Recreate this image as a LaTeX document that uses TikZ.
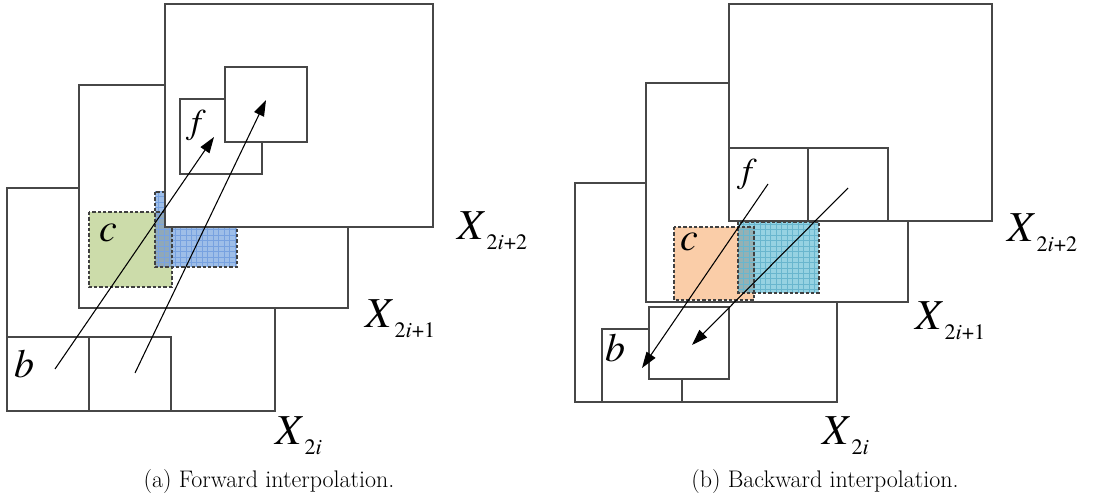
\documentclass[tikz,border=0pt]{standalone}
\usepackage{fontspec}
\usepackage{tikz}
\usetikzlibrary{arrows.meta}
\IfFontExistsTF{texgyretermes-italic.otf}{\newfontfamily\termesfont{texgyretermes-regular.otf}[ItalicFont=texgyretermes-italic.otf]}{\newfontfamily\termesfont{Latin Modern Roman}}
\definecolor{cgreen}{RGB}{204,220,170}
\definecolor{corange}{RGB}{250,205,168}
\definecolor{cblue}{RGB}{158,190,232}
\definecolor{cbluegrid}{RGB}{120,162,224}
\definecolor{ccyan}{RGB}{150,210,226}
\definecolor{ccyangrid}{RGB}{105,182,206}
\newcommand{\xname}[1]{{\itshape X}\hspace{2.5pt}\raisebox{-7.5pt}{\fontsize{16.5}{18}\selectfont\termesfont #1}}

\begin{document}
\begin{tikzpicture}[x=0.75pt, y=-0.75pt,
                vframe/.style={draw=black!72, line width=1pt, fill=white},
                mblock/.style={draw=black!72, line width=1pt, fill=white},
                region/.style={draw=black!75, line width=0.8pt, dash pattern=on 2.5pt off 1.5pt},
                arr/.style={line width=0.8pt, -{Triangle[length=12pt, width=8pt]}},
                letter/.style={inner sep=0pt, font=\fontsize{30}{32}\selectfont\termesfont\itshape},
                xlab/.style={inner sep=0pt, anchor=base west, font=\fontsize{32}{34}\selectfont\termesfont},
                caption/.style={inner sep=0pt, anchor=base, font=\fontsize{18}{20}\selectfont}]
                \useasboundingbox (0,0) rectangle (1093,495);
                % (a) forward
                \draw[vframe] (7,188) rectangle (275,411);
                \draw[mblock] (7,337) rectangle (89,411);
                \draw[mblock] (89,337) rectangle (171,411);
                \draw[vframe] (79,85) rectangle (348,308);
                \fill[cgreen] (89,212) rectangle (172,287);
                \fill[cblue] (155,192) rectangle (237,267);
                \fill[cblue!75!cgreen!85!black] (155,212) rectangle (172,267);
                \begin{scope}
                    \clip (155,192) rectangle (237,267);
                    \draw[cbluegrid, line width=0.5pt, step=4.1pt] (150,187) grid (242,272);
                \end{scope}
                \draw[region] (89,212) rectangle (172,287);
                \draw[region] (155,192) rectangle (237,267);
                \draw[vframe] (165,4) rectangle (433,227);
                \draw[mblock] (180,99) rectangle (262,174);
                \draw[mblock] (225,67) rectangle (307,142);
                \coordinate (ba) at (55,369);
                \coordinate (fa) at (214,137);
                \coordinate (pa) at (135,373);
                \coordinate (qa) at (266,100);
                \draw[arr] (ba) -- (fa);
                \draw[arr] (pa) -- (qa);
                \node[letter, font=\fontsize{26}{28}\selectfont\termesfont\itshape] (labfa) at (196,125) {f};
                \node[letter] (labca) at (108,233) {c};
                \node[letter] (labba) at (25,364) {b};
                \node[xlab] (xa2) at (457,240) {\xname{2\textit{i}+2}};
                \node[xlab] (xa1) at (365,328) {\xname{2\textit{i}+1}};
                \node[xlab] (xa0) at (275,444) {\xname{2\textit{i}}};
                \node[caption] (capa) at (269,487) {(a) Forward interpolation.};
                % (b) backward
                \draw[vframe] (575,183) rectangle (837,402);
                \draw[mblock] (602,329) rectangle (682,402);
                \draw[mblock] (649,307) rectangle (729,379);
                \draw[vframe] (646,83) rectangle (908,302);
                \fill[corange] (674,227) rectangle (754,300);
                \fill[ccyan] (738,222) rectangle (819,293);
                \fill[ccyan!75!corange!85!black] (738,227) rectangle (754,293);
                \begin{scope}
                    \clip (738,222) rectangle (819,293);
                    \draw[ccyangrid, line width=0.5pt, step=4.1pt] (733,217) grid (824,298);
                \end{scope}
                \draw[region] (674,227) rectangle (754,300);
                \draw[region] (738,222) rectangle (819,293);
                \draw[vframe] (729,4) rectangle (992,221);
                \draw[mblock] (729,148) rectangle (808,221);
                \draw[mblock] (808,148) rectangle (888,221);
                \coordinate (fb) at (768,184);
                \coordinate (bb) at (642,368);
                \coordinate (pb) at (848,188);
                \coordinate (qb) at (692,345);
                \draw[arr] (fb) -- (bb);
                \draw[arr] (pb) -- (qb);
                \node[letter, font=\fontsize{26}{28}\selectfont\termesfont\itshape] (labfb) at (747,174) {f};
                \node[letter] (labcb) at (689,242) {c};
                \node[letter] (labbb) at (615,348) {b};
                \node[xlab] (xb2) at (1007,242) {\xname{2\textit{i}+2}};
                \node[xlab] (xb1) at (915,330) {\xname{2\textit{i}+1}};
                \node[xlab] (xb0) at (822,444) {\xname{2\textit{i}}};
                \node[caption] (capb) at (825,487) {(b) Backward interpolation.};
            \end{tikzpicture}
\end{document}
